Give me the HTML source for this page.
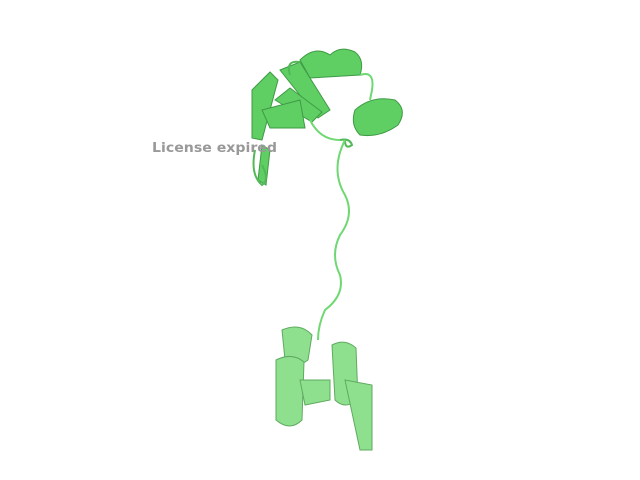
<!DOCTYPE html>
<html><head><meta charset="utf-8"><style>
html,body{margin:0;padding:0;background:#fff;width:640px;height:480px;overflow:hidden}
</style></head><body>
<svg width="640" height="480" viewBox="0 0 640 480" xmlns="http://www.w3.org/2000/svg">
<g fill="#5fcf63" stroke="#3f9a45" stroke-width="1">
<path d="M300 60 Q315 45 330 55 Q340 45 355 52 Q365 60 360 75 L310 78 Z"/>
<path d="M252 90 L270 72 L278 80 L262 140 L252 138 Z"/>
<path d="M280 70 L300 62 L330 110 L318 118 Z"/>
<path d="M275 100 L290 88 L322 112 L312 122 Z"/>
<path d="M262 110 L300 100 L305 128 L270 128 Z"/>
<path d="M355 110 Q372 95 395 100 Q408 110 398 125 Q380 138 360 135 Q350 125 355 110 Z"/>
<path d="M262 145 L270 150 L266 185 L258 180 Z"/>
</g>
<g fill="none" stroke="#52b858" stroke-width="2">
<path d="M255 150 Q250 175 262 185 Q270 180 262 165"/>
<path d="M290 75 Q285 60 300 62"/>
<path d="M340 140 Q350 138 352 145 Q345 150 345 140"/>
</g>
<g fill="none" stroke="#6fd873" stroke-width="2">
<path d="M345 140 Q330 170 345 195 Q355 215 340 235 Q330 255 340 275 Q345 295 325 310 Q318 325 318 340"/>
<path d="M360 75 Q375 70 372 90 L370 100"/>
<path d="M310 120 Q320 140 340 140"/>
</g>
<g fill="#8ee08e" stroke="#5faa60" stroke-width="1">
<path d="M282 330 Q300 322 312 335 L308 360 Q295 370 285 360 Z"/>
<path d="M276 360 Q292 352 304 362 L302 420 Q290 432 276 420 Z"/>
<path d="M332 345 Q345 338 356 348 L358 400 Q345 410 335 400 Z"/>
<path d="M345 380 L372 385 L372 450 L360 450 Z"/>
<path d="M300 380 L330 380 L330 400 L305 405 Z"/>
</g>
<text x="152" y="152" textLength="125" lengthAdjust="spacingAndGlyphs" font-family="'DejaVu Sans', 'Liberation Sans', sans-serif" font-weight="bold" font-size="13.5" fill="#999">License expired</text>
</svg>
</body></html>
